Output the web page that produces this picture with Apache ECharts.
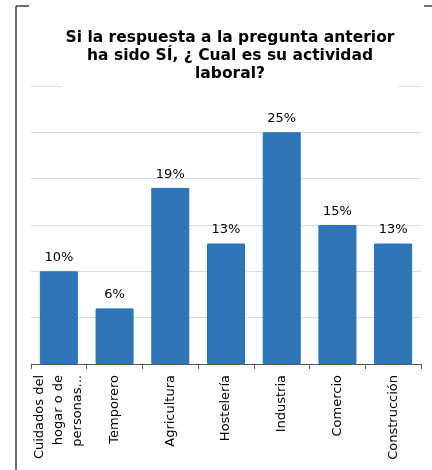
<!DOCTYPE html>
<html>
<head>
<meta charset="utf-8">
<script src="https://cdn.jsdelivr.net/npm/echarts@6/dist/echarts.min.js"></script>
<style>
  html, body { margin: 0; padding: 0; background: #fff; }
  #chart { width: 432px; height: 470px; }
</style>
</head>
<body>
<div id="chart"></div>
<script>
// Occupations reported by respondents who answered "SÍ"
const categories = [
  'Cuidados del\nhogar o de\npersonas...',
  'Temporero',
  'Agricultura',
  'Hostelería',
  'Industria',
  'Comercio',
  'Construcción'
];
const percentages = [10, 6, 19, 13, 25, 15, 13];

const FONT = '"DejaVu Sans", Verdana, sans-serif';

const chart = echarts.init(document.getElementById('chart'), null, { renderer: 'canvas' });

chart.setOption({
  animation: false,
  backgroundColor: '#fff',
  title: {
    text: 'Si la respuesta a la pregunta anterior\nha sido SÍ, ¿ Cual es su actividad\nlaboral?',
    left: 226,
    top: 25,
    textAlign: 'center',
    backgroundColor: '#fff',
    padding: [4, 4, 5, 4],
    textStyle: {
      fontFamily: FONT,
      fontWeight: 'bold',
      fontSize: 15.5,
      lineHeight: 18,
      color: '#000'
    }
  },
  graphic: [
    // chart frame: left edge and the visible parts of the top edge
    { type: 'line', z: -1, shape: { x1: 16, y1: 6, x2: 16, y2: 470 }, style: { stroke: '#404040', lineWidth: 1.5 } },
    { type: 'line', z: -1, shape: { x1: 16, y1: 6, x2: 29, y2: 6 }, style: { stroke: '#404040', lineWidth: 1.5 } },
    { type: 'line', z: -1, shape: { x1: 424, y1: 6, x2: 432, y2: 6 }, style: { stroke: '#404040', lineWidth: 1.5 } }
  ],
  grid: {
    left: 31,
    right: 11,
    top: 86,
    bottom: 106,
    containLabel: false
  },
  xAxis: {
    type: 'category',
    data: categories,
    axisLine: { show: true, lineStyle: { color: '#595959', width: 1 } },
    axisTick: { show: true, alignWithLabel: false, length: 5, lineStyle: { color: '#595959' } },
    axisLabel: {
      interval: 0,
      rotate: 90,
      margin: 11,
      fontFamily: FONT,
      fontSize: 13,
      lineHeight: 19,
      color: '#000'
    }
  },
  yAxis: {
    type: 'value',
    min: 0,
    max: 30,
    interval: 5,
    axisLine: { show: false },
    axisTick: { show: false },
    axisLabel: { show: false },
    splitLine: { show: true, lineStyle: { color: '#d9d9d9', width: 1 } }
  },
  series: [{
    type: 'bar',
    data: percentages,
    barWidth: 38,
    itemStyle: {
      color: '#2E75B6',
      borderColor: '#1F6FD1',
      borderWidth: 1
    },
    label: {
      show: true,
      position: 'top',
      distance: 7,
      fontFamily: FONT,
      fontSize: 13,
      color: '#000',
      formatter: p => p.value + '%'
    }
  }]
});
</script>
</body>
</html>
